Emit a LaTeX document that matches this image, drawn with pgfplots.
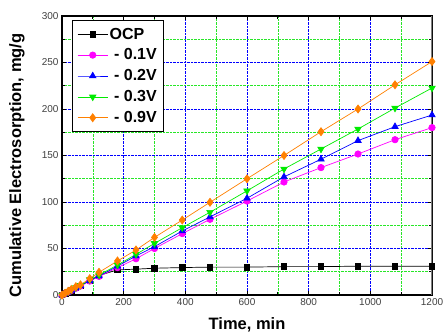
\documentclass[border=0pt]{standalone}
\usepackage{fontspec}
\setmainfont{Liberation Sans}
\usepackage{pgfplots}
\usepackage{pgfplotstable}
\pgfplotsset{compat=1.18}
\definecolor{myorange}{RGB}{255,128,0}
\definecolor{mymag}{RGB}{255,0,255}
\definecolor{myblue}{RGB}{0,0,255}
\definecolor{mygreen}{RGB}{0,235,0}
\definecolor{gridgreen}{RGB}{40,230,40}
\pgfplotstableread{
t ocp v1 v2 v3 v9
0 0 0 0 0 0
10 1.7 1.6 1.7 1.8 2
20 3.4 3.2 3.4 3.6 4
30 5 4.8 5 5.4 6
45 7.5 7.2 7.6 8 9
60 10 9.6 10 10.5 11
90 15.5 15 15.5 16.5 17.6
120 21 20 20.5 21.5 24.4
180 27 29.4 31 32.2 36.6
240 27.8 39 42 43.7 48.4
300 28.8 50 52 55.5 62
390 29.5 66 68.8 72.4 80.6
480 30 81.4 84 89 99.7
600 30 101 104 112 125
720 30.5 121.5 127 135.5 150
840 30.5 137 146 157 175.6
960 31 151.6 166 178.5 200
1080 31 167 181 201 226
1200 31 180 193.5 222.6 251
}\data
\begin{document}
\begin{tikzpicture}
\begin{axis}[
 scale only axis, width=370pt, height=279pt,
 xmin=0,xmax=1200,ymin=0,ymax=300,
 xtick={0,200,...,1200}, minor xtick={100,300,...,1100},
 ytick={0,50,...,300}, minor ytick={25,75,...,275},
 grid=both,
 major grid style={myblue, densely dotted, line width=0.6pt},
 minor grid style={gridgreen, densely dotted, line width=0.6pt},
 tick align=inside, major tick length=4pt, minor tick length=3pt,
 tick style={black, line width=0.8pt},
 axis line style={line width=1.2pt},
 xlabel={Time, min}, ylabel={Cumulative Electrosorption, mg/g},
 label style={font=\fontsize{16.5}{18}\selectfont\bfseries},
 xlabel style={at={(rel axis cs:0.5,0)}, anchor=north, yshift=-19pt},
 ylabel style={at={(rel axis cs:0,0.5)}, anchor=center, yshift=45pt, xshift=-10pt},
 tick label style={font=\fontsize{10}{12}\selectfont, text=black!75},
 /pgf/number format/assume math mode=true,
 /pgf/number format/1000 sep={},
 legend style={at={(0.027,0.986)}, anchor=north west, draw=black, line width=0.8pt,
   font=\fontsize{16}{18}\selectfont\bfseries, row sep=5pt, inner xsep=5pt, inner ysep=6pt,
   nodes={inner sep=1.6pt}},
 legend cell align=left,
 legend image code/.code={\draw[mark repeat=2,mark phase=2] plot coordinates {(0pt,0pt)(15pt,0pt)(30pt,0pt)};},
 every axis plot/.append style={line width=0.7pt, mark size=3.2pt},
]
\addplot[black, mark=square*, mark size=2.8pt] table[x=t,y=ocp]{\data};
\addlegendentry{OCP}
\addplot[mymag, mark=*] table[x=t,y=v1]{\data};
\addlegendentry{\ - 0.1V}
\addplot[myblue, mark=triangle*, mark size=3.7pt] table[x=t,y=v2]{\data};
\addlegendentry{\ - 0.2V}
\addplot[mygreen, mark=triangle*, mark options={rotate=180}, mark size=3.7pt] table[x=t,y=v3]{\data};
\addlegendentry{\ - 0.3V}
\addplot[myorange, mark=diamond*, mark size=4pt] table[x=t,y=v9]{\data};
\addlegendentry{\ - 0.9V}
\draw[gray, line width=2pt] (rel axis cs:1,0) -- (rel axis cs:1,1);
\end{axis}
\pgfresetboundingbox
\path (current axis.south west) ++(-62pt,-40pt) rectangle ++(446pt,335pt);
\end{tikzpicture}
\end{document}
